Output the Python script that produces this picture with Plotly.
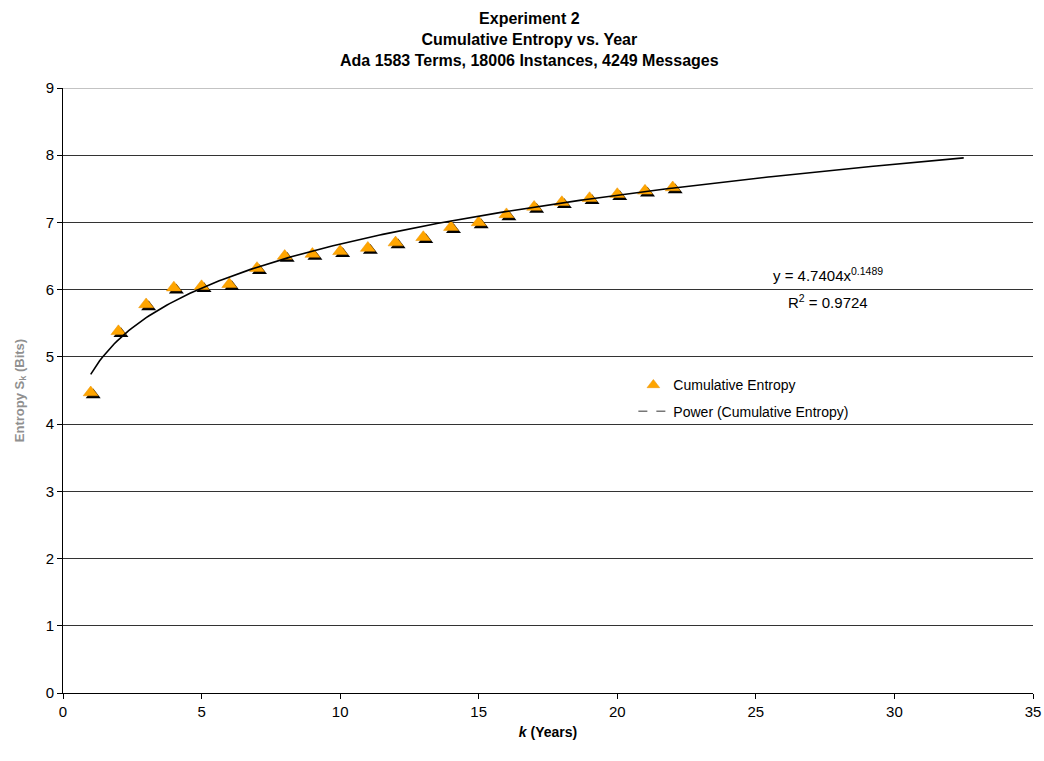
import plotly.graph_objects as go
import numpy as np

years = list(range(1, 23))
entropy = [4.47, 5.38, 5.78, 6.03, 6.05, 6.08, 6.32, 6.50, 6.53, 6.57, 6.62,
           6.70, 6.78, 6.93, 7.00, 7.12, 7.23, 7.30, 7.36, 7.42, 7.47, 7.52]
fit_a = 4.7404
fit_b = 0.1489
fit_r2 = 0.9724
fit_x_end = 32.5

x_tick_vals = [0, 5, 10, 15, 20, 25, 30, 35]
y_tick_vals = list(range(0, 10))

fx = np.linspace(1, fit_x_end, 300)
fy = fit_a * fx ** fit_b

FONT = "Liberation Sans, Arial, sans-serif"
fig = go.Figure()

# legend-only entries (first, so legend order is right)
fig.add_trace(go.Scatter(x=[None], y=[None], mode="markers", name="Cumulative Entropy",
                         legendgroup="a",
                         marker=dict(symbol="triangle-up", size=11, color="#FFA500",
                                     line=dict(color="#E89000", width=0.5))))
fig.add_trace(go.Scatter(x=[None], y=[None], mode="lines", name="Power (Cumulative Entropy)",
                         legendgroup="b",
                         line=dict(color="#777777", width=1.5, dash="dash")))

# shadow triangles on shifted overlay axes
fig.add_trace(go.Scatter(x=years, y=entropy, mode="markers", xaxis="x2", yaxis="y2",
                         marker=dict(symbol="triangle-up", size=13, color="black"),
                         showlegend=False, hoverinfo="skip"))
# orange triangles and fit line on top
fig.add_trace(go.Scatter(x=years, y=entropy, mode="markers", xaxis="x3", yaxis="y3",
                         marker=dict(symbol="triangle-up", size=13, color="#FFA500",
                                     line=dict(color="#E89000", width=0.5)),
                         showlegend=False))
fig.add_trace(go.Scatter(x=fx, y=fy, mode="lines", xaxis="x3", yaxis="y3",
                         line=dict(color="black", width=1.6), showlegend=False))

plot_w = 1033 - 63
plot_h = 693 - 88
dx = 2.5 * 35 / plot_w
dy = 2.5 * 9 / plot_h

fig.update_layout(
    width=1044, height=761,
    margin=dict(l=63, r=11, t=88, b=68, autoexpand=False),
    paper_bgcolor="white", plot_bgcolor="white",
    font=dict(family=FONT, size=15, color="black"),
    xaxis=dict(range=[0, 35], tickvals=x_tick_vals, showgrid=False, zeroline=False,
               showline=True, linecolor="black", linewidth=1, ticks="outside",
               ticklen=5, tickcolor="black", automargin=False,
               title=dict(text="<b><i>k</i> (Years)</b>", font=dict(family=FONT, size=14), standoff=8)),
    yaxis=dict(range=[0, 9], tickvals=y_tick_vals, showgrid=True, gridcolor="#333333",
               gridwidth=1, zeroline=False, showline=True, linecolor="black", linewidth=1,
               ticks="outside", ticklen=5, tickcolor="black", automargin=False,
               title=dict(text="<b>Entropy S<sub>k</sub> (Bits)</b>",
                          font=dict(family=FONT, size=13, color="#909090"), standoff=18)),
    xaxis2=dict(range=[0 - dx, 35 - dx], overlaying="x", visible=False),
    yaxis2=dict(range=[0 + dy, 9 + dy], overlaying="y", visible=False),
    xaxis3=dict(range=[0, 35], overlaying="x", visible=False),
    yaxis3=dict(range=[0, 9], overlaying="y", visible=False),
    legend=dict(x=0.588, y=0.535, xanchor="left", yanchor="top",
                bgcolor="rgba(0,0,0,0)", font=dict(family=FONT, size=14),
                tracegroupgap=5),
    showlegend=True,
    annotations=[
        dict(x=529 / 1044, xref="paper", y=(693 - 39) / plot_h, yref="paper",
             xanchor="center", yanchor="middle", showarrow=False,
             text="<b>Experiment 2<br>Cumulative Entropy vs. Year<br>Ada 1583 Terms, 18006 Instances, 4249 Messages</b>",
             font=dict(family=FONT, size=16, color="black")),
        dict(x=27.6, y=6.22, xref="x", yref="y", text=f"y = {fit_a}x<sup>{fit_b}</sup>",
             showarrow=False, font=dict(family=FONT, size=15)),
        dict(x=27.6, y=5.82, xref="x", yref="y", text=f"R<sup>2</sup> = {fit_r2}",
             showarrow=False, font=dict(family=FONT, size=15)),
    ],
    shapes=[dict(type="line", xref="paper", yref="y", x0=0, x1=1, y0=9, y1=9,
                 line=dict(color="#888888", width=1))],
)
# title x: convert container center to paper fraction
fig.layout.annotations[0].x = (529 - 63) / plot_w

fig.write_html("out.html", post_script="document.body.style.margin='0';",
               config={"displayModeBar": False})
